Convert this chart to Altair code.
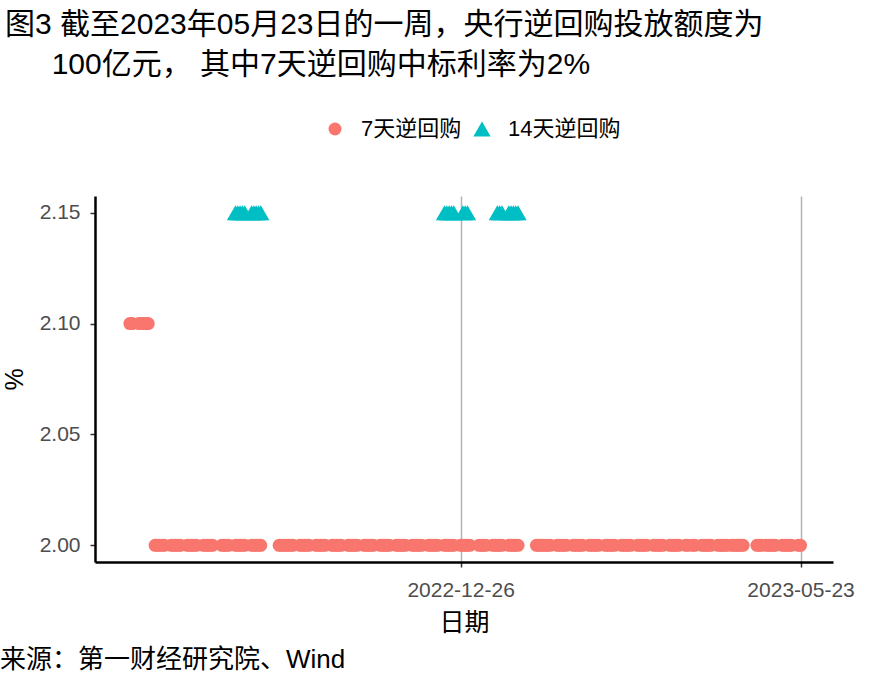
import altair as alt
import pandas as pd

FONT = "Liberation Sans, Arial, Noto Sans CJK SC"

series_names = ["7天逆回购", "14天逆回购"]
series_colors = ["#F8766D", "#00BFC4"]
series_shapes = ["circle", "triangle-up"]
series_sizes = [169, 300]

# Chinese market holidays (weekday closures) and adjusted weekend workdays
holidays = ["2022-09-12", "2022-10-03", "2022-10-04", "2022-10-05", "2022-10-06",
            "2022-10-07", "2023-01-02", "2023-01-23", "2023-01-24", "2023-01-25",
            "2023-01-26", "2023-01-27", "2023-04-05", "2023-05-01", "2023-05-02",
            "2023-05-03"]
extra_workdays = ["2022-10-08", "2022-10-09", "2023-01-28", "2023-01-29",
                  "2023-04-23", "2023-05-06"]


def workdays(start, end):
    d = pd.bdate_range(start, end).strftime("%Y-%m-%d")
    d = [x for x in d if x not in holidays]
    d += [x for x in extra_workdays if start <= x <= end]
    return sorted(d)


# 7-day reverse repo winning rate (%)
rate7_dates_a = workdays("2022-08-04", "2022-08-12")
rate7_value_a = 2.10
rate7_dates_b = workdays("2022-08-15", "2023-05-23")
rate7_value_b = 2.00

# 14-day reverse repo winning rate (%)
rate14_dates = (workdays("2022-09-19", "2022-09-30")
                + workdays("2022-12-19", "2022-12-23")
                + workdays("2022-12-27", "2022-12-29")
                + workdays("2023-01-11", "2023-01-20"))
rate14_value = 2.15

x_tick_dates = [(2022, 12, 26), (2023, 5, 23)]
y_tick_values = [2.00, 2.05, 2.10, 2.15]

title_line1 = "图3 截至2023年05月23日的一周，央行逆回购投放额度为"
title_line2 = "\u200b\u3000\u00a0\u00a0100亿元， 其中7天逆回购中标利率为2%"
source_text = "来源：第一财经研究院、Wind"

rows = []
for d in rate7_dates_a:
    rows.append({"date": d, "rate": rate7_value_a, "series": series_names[0]})
for d in rate7_dates_b:
    rows.append({"date": d, "rate": rate7_value_b, "series": series_names[0]})
for d in rate14_dates:
    rows.append({"date": d, "rate": rate14_value, "series": series_names[1]})
df = pd.DataFrame(rows)

legend = alt.Legend(
    title=None, orient="none", direction="horizontal", legendX=229, legendY=-78,
    labelFontSize=22, labelFont=FONT, labelColor="black", labelOffset=15,
    columnPadding=9, symbolStrokeWidth=0, symbolOpacity=1, padding=0,
)

x_scale = alt.Scale(
    type="utc",
    domain=[alt.DateTime(year=2022, month=7, date=19, hours=20, utc=True),
            alt.DateTime(year=2023, month=6, date=6, hours=3, utc=True)],
)

points = alt.Chart(df).mark_point(filled=True, opacity=1, strokeWidth=0).encode(
    x=alt.X("date:T", scale=x_scale, axis=alt.Axis(
        values=[alt.DateTime(year=y, month=m, date=d, utc=True) for (y, m, d) in x_tick_dates],
        format="%Y-%m-%d", title="日期", grid=True, gridColor="#b3b3b3", gridWidth=1.5,
        domainColor="black", domainWidth=2.5, tickColor="#333333", tickWidth=1.5,
        tickSize=5, labelFontSize=21, labelFont=FONT, labelColor="#4d4d4d",
        labelPadding=12, titleFontSize=25, titleFont=FONT, titleFontWeight="normal",
        titleColor="black", titlePadding=10, labelFlush=False, labelOverlap=False)),
    y=alt.Y("rate:Q", scale=alt.Scale(domain=[1.9925, 2.1575], nice=False, zero=False),
            axis=alt.Axis(values=y_tick_values, format=".2f", title="%", grid=False,
                          domainColor="black", domainWidth=2.5, tickColor="#333333",
                          tickWidth=1.5, tickSize=5, labelFontSize=21, labelFont=FONT,
                          labelColor="#4d4d4d", labelPadding=10, titleFontSize=25,
                          titleFont=FONT, titleFontWeight="normal", titleColor="black",
                          titlePadding=12)),
    color=alt.Color("series:N", scale=alt.Scale(domain=series_names, range=series_colors),
                    legend=legend),
    shape=alt.Shape("series:N", scale=alt.Scale(domain=series_names, range=series_shapes),
                    legend=legend),
    size=alt.Size("series:N", scale=alt.Scale(domain=series_names, range=series_sizes),
                  legend=legend),
)

source = alt.Chart(pd.DataFrame({"t": [source_text]})).mark_text(
    align="left", baseline="middle", fontSize=26, font=FONT, color="black"
).encode(text="t:N", x=alt.value(-95), y=alt.value(464))

chart = alt.layer(points, source).properties(
    width=738, height=366,
    background="white",
    autosize=alt.AutoSizeParams(type="none"),
    padding={"left": 95, "top": 196, "right": 52, "bottom": 126},
    title=alt.TitleParams(
        text=[title_line1, title_line2], anchor="start", frame="group", dx=-90,
        fontSize=30, font=FONT, fontWeight="normal", color="black", lineHeight=40,
        offset=38),
).configure_view(strokeWidth=0, stroke="transparent")

chart.save("out.html", embed_options={"renderer": "svg", "actions": False})
